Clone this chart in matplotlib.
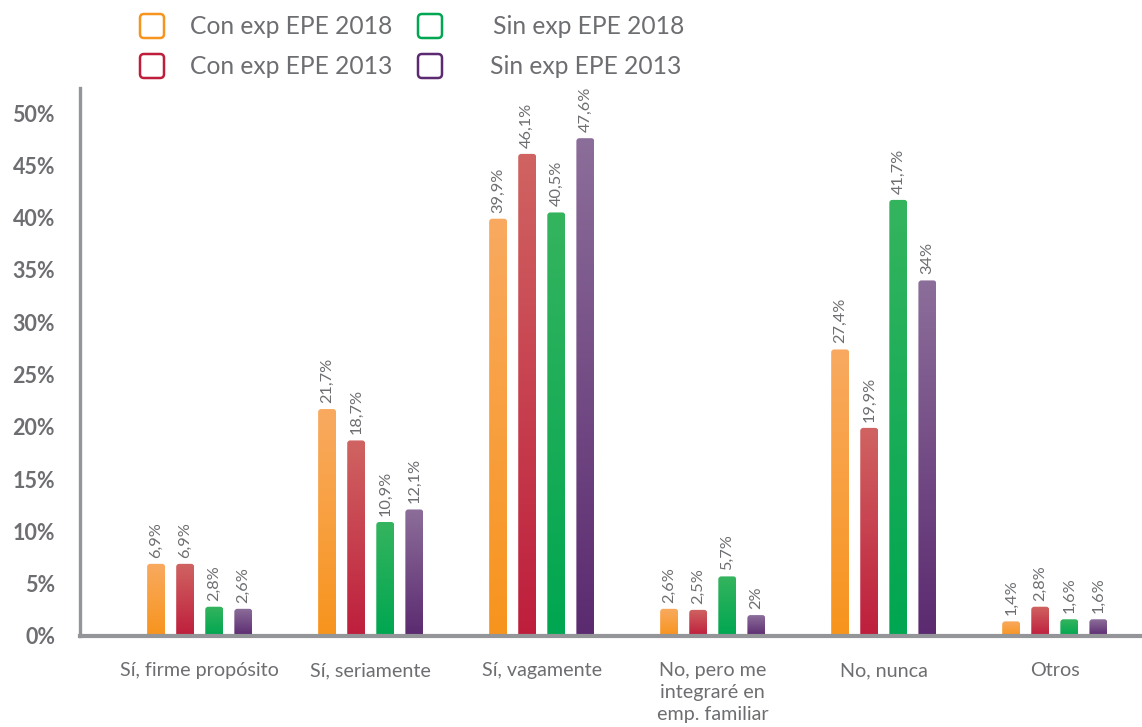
import matplotlib
matplotlib.use('Agg')
import matplotlib.pyplot as plt
import numpy as np
from matplotlib.patches import FancyBboxPatch
from matplotlib.colors import LinearSegmentedColormap

plt.rcParams['font.family'] = ['Lato', 'DejaVu Sans']

# ── data ──────────────────────────────────────────────────────────────────────
categories = ['Sí, firme propósito', 'Sí, seriamente', 'Sí, vagamente',
              'No, pero me\nintegraré en\nemp. familiar', 'No, nunca', 'Otros']
series = ['Con exp EPE 2018', 'Con exp EPE 2013', 'Sin exp EPE 2018', 'Sin exp EPE 2013']
con_2018 = [6.9, 21.7, 39.9, 2.6, 27.4, 1.4]
con_2013 = [6.9, 18.7, 46.1, 2.5, 19.9, 2.8]
sin_2018 = [2.8, 10.9, 40.5, 5.7, 41.7, 1.6]
sin_2013 = [2.6, 12.1, 47.6, 2.0, 34.0, 1.6]
labels_con_2018 = ['6,9%', '21,7%', '39,9%', '2,6%', '27,4%', '1,4%']
labels_con_2013 = ['6,9%', '18,7%', '46,1%', '2,5%', '19,9%', '2,8%']
labels_sin_2018 = ['2,8%', '10,9%', '40,5%', '5,7%', '41,7%', '1,6%']
labels_sin_2013 = ['2,6%', '12,1%', '47,6%', '2%', '34%', '1,6%']
yticks = [0, 5, 10, 15, 20, 25, 30, 35, 40, 45, 50]

# ── style ─────────────────────────────────────────────────────────────────────
GRAY_T = '#6D6E71'
GRAY_A = '#939598'
# (top colour, bottom colour) for each series
GRADS = [('#F9AA60', '#F7941D'),
         ('#D06462', '#BE1E3C'),
         ('#35B45E', '#00A651'),
         ('#8C6E9A', '#5B2A70')]

W_PX, H_PX = 1142, 727
fig = plt.figure(figsize=(W_PX / 100, H_PX / 100), dpi=100)
ax = fig.add_axes([80 / W_PX, (H_PX - 636) / H_PX, 1062 / W_PX, 548 / H_PX])

XMIN, XMAX = -0.70, 5.51
YMIN, YMAX = 0, 52.4
px_x = (XMAX - XMIN) / 1062   # data units per pixel
px_y = (YMAX - YMIN) / 548

x = np.arange(len(categories))
offsets = [-1.5, -0.5, 0.5, 1.5]
step = 0.17
bw = 0.105
all_vals = [con_2018, con_2013, sin_2018, sin_2013]
all_labels = [labels_con_2018, labels_con_2013, labels_sin_2018, labels_sin_2013]

r = 3 * px_x
for vals, labs, off, (ctop, cbot) in zip(all_vals, all_labels, offsets, GRADS):
    bars = ax.bar(x + off * step, vals, bw, color='none', edgecolor='none')
    cmap = LinearSegmentedColormap.from_list('g', [cbot, ctop])
    grad = np.linspace(0, 1, 256).reshape(-1, 1)
    for b, lab in zip(bars, labs):
        x0, h = b.get_x(), b.get_height()
        patch = FancyBboxPatch((x0, -1), bw, h + 1,
                               boxstyle=f'round,pad=0,rounding_size={r}',
                               mutation_aspect=px_y / px_x,
                               facecolor='none', edgecolor='none')
        ax.add_patch(patch)
        im = ax.imshow(grad, cmap=cmap, origin='lower', aspect='auto',
                       extent=(x0, x0 + bw, 0, h), zorder=2)
        im.set_clip_path(patch)
        ax.text(x0 + bw / 2, h + 6 * px_y, lab, rotation=90, ha='center',
                va='bottom', fontsize=11.8, color=GRAY_T)

ax.set_xlim(XMIN, XMAX)
ax.set_ylim(YMIN, YMAX)
for s in ['top', 'right']:
    ax.spines[s].set_visible(False)
ax.spines['left'].set_color(GRAY_A)
ax.spines['left'].set_linewidth(2.4)
ax.spines['bottom'].set_color(GRAY_A)
ax.spines['bottom'].set_linewidth(3)
ax.spines['bottom'].set_zorder(5)

ax.set_yticks(yticks)
ax.set_yticklabels([f'{v}%' for v in yticks], fontsize=15.5, fontweight='bold', color=GRAY_T)
ax.set_xticks(x)
ax.set_xticklabels(categories, fontsize=14.2, color=GRAY_T, linespacing=1.35, va='top')
ax.tick_params(axis='y', length=0, pad=18)
ax.tick_params(axis='x', length=0, pad=19)

# ── legend (pixel coordinates) ───────────────────────────────────────────────
lg = fig.add_axes([0, 0, 1, 1])
lg.set_xlim(0, W_PX)
lg.set_ylim(H_PX, 0)
lg.axis('off')
leg_pos = [(140, 26, 190), (140, 66, 190), (418, 26, 493), (418, 66, 490)]
for name, (bx, by, tx), (ctop, cbot) in zip(series, leg_pos, GRADS):
    lg.add_patch(FancyBboxPatch((bx, by - 12), 24, 24,
                                boxstyle='round,pad=0,rounding_size=4',
                                facecolor='white', edgecolor=cbot, linewidth=1.8))
    lg.text(tx, by, name, fontsize=17.7, color=GRAY_T, va='center', ha='left')

fig.savefig('out.png', dpi=100, facecolor='white')
